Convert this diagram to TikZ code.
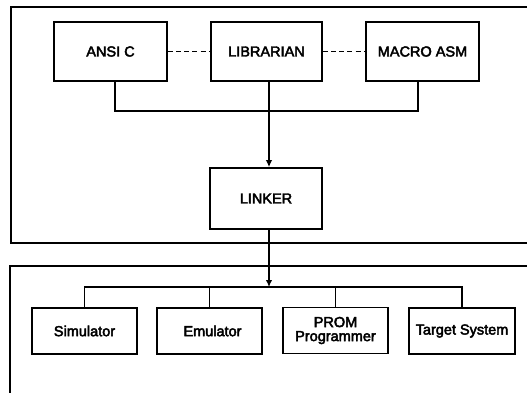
\documentclass[tikz,border=0pt]{standalone}
\usepackage{fontspec}
\setmainfont{Liberation Sans}
\usetikzlibrary{arrows.meta}
\newcommand\heavytext[1]{\special{pdf:literal direct 2 Tr 0.45 w}#1\special{pdf:literal direct 0 Tr}}
\begin{document}
\begin{tikzpicture}[x=1pt,y=-1pt,
  txt/.style={font=\fontsize{14.5}{14}\selectfont},
  box/.style={draw,line width=1.7pt,inner sep=0pt,minimum height=59pt,txt,align=center},
  lbox/.style={draw,line width=1.7pt,inner sep=0pt,minimum height=46pt,minimum width=105pt,txt,align=center},
  frame/.style={line width=1.5pt},
  conn/.style={line width=1.3pt},
  dashconn/.style={line width=1.5pt,dash pattern=on 5pt off 3.2pt},
  arr/.style={line width=1.3pt,-{Latex[length=7pt,width=6.5pt]}}]
\useasboundingbox (0,0) rectangle (527,393);
\fill[white] (0,0) rectangle (527,393);
% frames
\draw[frame] (527,7) -- (11,7) -- (11,243) -- (527,243);
\draw[frame] (527,266) -- (10,266) -- (10,393);
% top boxes
\node[box,minimum width=113pt] (ansi) at (110.5,51.5) {\heavytext{ANSI C}};
\node[box,minimum width=111pt] (lib) at (266.5,51.5) {\heavytext{LIBRARIAN}};
\node[box,minimum width=113pt] (asm) at (422.5,51.5) {\heavytext{MACRO ASM}};
\node[box,minimum width=112pt,minimum height=61pt] (linker) at (266,198.5) {\heavytext{LINKER}};
% dashed links
\draw[dashconn] (ansi.east) -- (lib.west);
\draw[dashconn] (lib.east) -- (asm.west);
% bracket
\coordinate (b1) at (115,111);
\coordinate (b3) at (418,111);
\draw[conn] (ansi.south -| b1) -- (b1) -- (b3) -- (asm.south -| b3);
% arrows
\coordinate (ax) at (269,0);
\draw[arr] (lib.south -| ax) -- (linker.north -| ax);
\coordinate (b4) at (269,287);
\draw[arr] (linker.south -| b4) -- (b4);
% lower boxes
\node[lbox] (sim) at (84.5,331) {\heavytext{Simulator}};
\node[lbox] (emu) at (209.5,331) {\hspace{6pt}\heavytext{Emulator}};
\node[lbox] (prom) at (335.5,330.5) {\heavytext{PROM}\\\heavytext{Programmer}};
\node[lbox,minimum width=106pt] (tgt) at (462,331) {\heavytext{Target System}};
\draw[conn] (sim.north) |- (tgt.north |- b4) -- (tgt.north);
\draw[conn] (emu.north) -- (emu.north |- b4);
\draw[conn] (prom.north) -- (prom.north |- b4);
\end{tikzpicture}
\end{document}
